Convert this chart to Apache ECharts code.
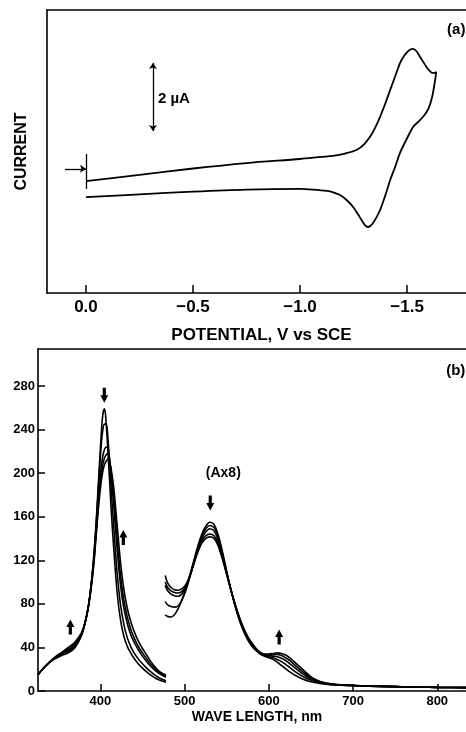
<!DOCTYPE html>
<html>
<head>
<meta charset="utf-8">
<script src="https://cdn.jsdelivr.net/npm/echarts@6.0.0/dist/echarts.min.js"></script>
<style>
  html, body { margin: 0; padding: 0; background: #fff; }
  #chart { width: 466px; height: 732px; }
</style>
</head>
<body>
<div id="chart"></div>
<script>
// ---- panel (a): cyclic voltammogram ----
var cvPotential = [
  0.0, -0.25, -0.5, -0.75, -1.0, -1.1, -1.154, -1.21, -1.266, -1.3, -1.327, -1.35, -1.374, -1.40,
  -1.421, -1.445, -1.467, -1.485, -1.5, -1.515, -1.528, -1.545, -1.561, -1.577, -1.593, -1.607,
  -1.617, -1.628, -1.636,
  -1.631, -1.617, -1.6, -1.575, -1.55, -1.528, -1.5, -1.467, -1.445, -1.421, -1.4, -1.374, -1.355,
  -1.341, -1.328, -1.318, -1.305, -1.29, -1.27, -1.248, -1.22, -1.187, -1.155, -1.126, -1.06, -1.0,
  -0.75, -0.5, -0.25, 0.0
];
var cvCurrent = [
  3.29, 3.47, 3.66, 3.82, 3.94, 4.0, 4.03, 4.1, 4.21, 4.38, 4.59, 4.85, 5.18, 5.6,
  5.97, 6.38, 6.76, 6.96, 7.08, 7.16, 7.18, 7.1, 6.94, 6.78, 6.62, 6.52,
  6.47, 6.47, 6.5,
  6.26, 5.76, 5.42, 5.18, 5.02, 4.88, 4.55, 4.12, 3.72, 3.32, 2.9, 2.44, 2.2,
  2.06, 1.97, 1.94, 1.98, 2.12, 2.32, 2.53, 2.72, 2.88, 2.96, 3.0, 3.04, 3.06,
  3.04, 2.98, 2.9, 2.82
];
var potentialTicks = [0, -0.5, -1.0, -1.5];
// start marker, scale bar (2 uA)
var startArrow = [[0.098, 3.65], [0.0, 3.65]];
var startTick = [[0.0, 4.09], [0.0, 3.06]];
var scaleBar = [[-0.313, 6.76], [-0.313, 4.76]];

// ---- panel (b): spectra ----
var soretWl = [326, 335, 345, 355, 362, 370, 378, 384, 388, 392, 395, 398, 401, 403, 405, 407, 409,
  411, 413, 416, 420, 424, 428, 432, 436, 440, 445, 450, 455, 460, 465, 470, 478];
var soret0 = [15, 23, 29, 33, 35, 40, 52, 70, 90, 122, 155, 195, 235, 254, 259, 245, 220,
  193, 165, 130, 90, 65, 50, 41, 35, 30, 25, 21, 17.5, 14.5, 12, 10, 8];
var soret1 = [15, 23, 29.5, 34, 36.5, 41, 52, 70, 90, 120, 152, 190, 225, 240, 245, 245, 232,
  210, 184, 150, 108, 79, 61, 49, 41, 35, 29.5, 25, 21, 17.5, 14.5, 12, 9.5];
var soret2 = [15, 23, 30, 34.5, 37.5, 42.5, 52.5, 70, 90, 118, 148, 180, 205, 216, 222, 224, 223,
  213, 196, 170, 130, 97, 76, 62, 52, 45, 38, 32, 27, 22.5, 19, 16, 12.5];
var soret3 = [15, 23, 30, 35, 38.5, 43.5, 53, 70, 89, 116, 145, 175, 198, 208, 214, 217, 218,
  212, 200, 178, 140, 106, 83, 68, 57, 49, 41, 35, 29.5, 24.5, 20.5, 17, 13.5];
var soret4 = [15, 23, 30.5, 36, 40, 45, 54, 70, 88, 114, 142, 170, 192, 202, 208, 211, 213,
  210, 203, 186, 152, 118, 93, 76, 64, 55, 46, 39, 33, 27, 22, 18, 14.5];

var qWl = [477, 480, 484, 488, 492, 496, 500, 505, 510, 515, 520, 525, 530, 535, 540, 545, 550, 555,
  560, 565, 570, 575, 580, 585, 590, 595, 600, 605, 610, 615, 620, 625, 630, 640, 650, 660, 670,
  680, 700, 720, 750, 780, 800, 846];
var q0 = [70, 68.5, 68, 70, 75, 82, 91, 103, 117, 131, 143, 151, 155, 153, 143, 128, 110, 93,
  78, 65, 55, 47, 41, 37, 34, 32, 30.5, 29, 26.5, 23.5, 20.5, 17.5, 15, 11, 8.5, 7, 6,
  5.5, 5, 4.5, 4, 3.5, 3.3, 3];
var q1 = [82, 79, 77.5, 77, 78, 82, 89, 101, 115, 129, 141, 149, 152, 150, 141, 126, 109, 93,
  78.5, 66, 56, 48, 42, 37.5, 34, 32.5, 31.5, 30.5, 29, 27, 24.5, 21.5, 18.5, 13.5, 10, 7.5, 6.3,
  5.6, 5, 4.5, 4, 3.5, 3.3, 3];
var q2 = [97, 92, 89, 87.5, 87, 88.5, 93, 102, 115, 128, 139, 146, 149, 147, 138, 124, 108, 93,
  79, 67, 57, 49, 43, 38, 34.5, 33, 32.5, 32, 31.5, 30, 28, 25, 22, 16, 11.5, 8.3, 6.6,
  5.8, 5, 4.5, 4, 3.5, 3.3, 3];
var q3 = [100, 95, 92, 90.5, 90, 91, 94.5, 103, 114.5, 127, 137, 142.5, 144, 142.5, 135, 122, 107.5, 93,
  79.5, 67.5, 57.5, 49.5, 43.5, 38.5, 35, 33.5, 33, 33.5, 33.5, 32.5, 30.5, 28, 24.5, 18, 12.3, 8.7, 6.8,
  5.9, 5, 4.5, 4, 3.5, 3.3, 3];
var q4 = [106, 99, 95, 93, 92.5, 93.5, 96, 103, 114, 126, 135, 140, 141.5, 140, 133, 121, 107, 93,
  80, 68, 58, 50, 44, 39, 35.5, 34, 34, 34.5, 35, 34.5, 33, 30.5, 27, 20, 13, 9, 7,
  6, 5, 4.5, 4, 3.5, 3.3, 3];
var wlTicks = [400, 500, 600, 700, 800];
var absTicks = [0, 40, 80, 120, 160, 200, 240, 280];
var arrowsDown = [[404.7, 271.6], [530.5, 172.5]];
var arrowsUp = [[427.3, 141], [364.4, 58.7], [612.3, 49.5]];

var FONT = "'Liberation Sans', Arial, sans-serif";
var INK = '#000';
var frameLine = { show: true, onZero: false, lineStyle: { color: INK, width: 1.6 } };

function pairs(xs, ys) {
  return xs.map(function (x, i) { return [x, ys[i]]; });
}

function spectrum(wl, vals) {
  return {
    type: 'line',
    xAxisIndex: 1,
    yAxisIndex: 1,
    data: pairs(wl, vals),
    smooth: 0.35,
    showSymbol: false,
    symbol: 'none',
    lineStyle: { color: INK, width: 1.6 },
    silent: true
  };
}

function seg(p, q, s0, s1) {
  return [
    { coord: p, symbol: s0 },
    { coord: q, symbol: s1 }
  ];
}

// plain top edge of a panel frame
function topEdge(gridIndex, min, max, inverse) {
  return {
    gridIndex: gridIndex,
    type: 'value',
    position: 'top',
    inverse: !!inverse,
    min: min,
    max: max,
    splitLine: { show: false },
    axisLine: frameLine,
    axisTick: { show: false },
    axisLabel: { show: false }
  };
}

var blockArrow = 'path://M3,0 L7,0 L7,7 L10,7 L5,14 L0,7 L3,7 Z';

var series = [
  {
    type: 'line',
    xAxisIndex: 0,
    yAxisIndex: 0,
    data: pairs(cvPotential, cvCurrent),
    smooth: 0.3,
    showSymbol: false,
    symbol: 'none',
    lineStyle: { color: INK, width: 1.8 },
    markLine: {
      silent: true,
      animation: false,
      symbolSize: 6,
      label: { show: false },
      lineStyle: { color: INK, width: 1.3, type: 'solid' },
      data: [
        seg(startArrow[0], startArrow[1], 'none', 'arrow'),
        seg(startTick[0], startTick[1], 'none', 'none'),
        seg(scaleBar[0], scaleBar[1], 'arrow', 'arrow')
      ]
    }
  },
  {
    type: 'scatter',
    xAxisIndex: 0,
    yAxisIndex: 0,
    symbolSize: 0,
    silent: true,
    itemStyle: { opacity: 1 },
    data: [
      { value: [-0.336, 5.7], label: { formatter: '2 µA', position: 'right', distance: 0 } },
      { value: [-1.687, 7.74], label: { formatter: '(a)', position: 'right', distance: 0 } }
    ],
    label: { show: true, color: INK, fontFamily: FONT, fontWeight: 'bold', fontSize: 15 }
  }
];

[soret0, soret1, soret2, soret3, soret4].forEach(function (v) { series.push(spectrum(soretWl, v)); });
[q0, q1, q2, q3, q4].forEach(function (v) { series.push(spectrum(qWl, v)); });

series.push({
  type: 'scatter',
  xAxisIndex: 1,
  yAxisIndex: 1,
  symbol: blockArrow,
  symbolSize: [8, 15],
  itemStyle: { color: INK, opacity: 1 },
  silent: true,
  data: arrowsDown
});
series.push({
  type: 'scatter',
  xAxisIndex: 1,
  yAxisIndex: 1,
  symbol: blockArrow,
  symbolSize: [8, 15],
  symbolRotate: 180,
  itemStyle: { color: INK, opacity: 1 },
  silent: true,
  data: arrowsUp
});
series.push({
  type: 'scatter',
  xAxisIndex: 1,
  yAxisIndex: 1,
  symbolSize: 0,
  silent: true,
  itemStyle: { opacity: 1 },
  data: [
    { value: [546, 200], label: { formatter: '(Ax8)', fontSize: 14 } },
    { value: [822, 293.5], label: { formatter: '(b)', fontSize: 15 } }
  ],
  label: { show: true, position: 'inside', color: INK, fontFamily: FONT, fontWeight: 'bold' }
});

var option = {
  backgroundColor: '#fff',
  animation: false,
  grid: [
    { left: 47, top: 10, width: 429, height: 283, outerBoundsMode: 'none' },
    { left: 38, top: 349, width: 438, height: 342, outerBoundsMode: 'none' }
  ],
  xAxis: [
    {
      gridIndex: 0,
      type: 'value',
      inverse: true,
      min: -1.822,
      max: 0.182,
      splitLine: { show: false },
      axisLine: frameLine,
      axisTick: { inside: true, length: 8, customValues: potentialTicks, lineStyle: { color: INK, width: 1.5 } },
      axisLabel: {
        customValues: potentialTicks,
        margin: 6,
        color: INK,
        fontFamily: FONT,
        fontWeight: 'bold',
        fontSize: 17,
        formatter: function (v) { return v === 0 ? '0.0' : '\u2212' + Math.abs(v).toFixed(1); }
      },
      name: 'POTENTIAL, V vs SCE',
      nameLocation: 'middle',
      nameGap: 34,
      nameTextStyle: { color: INK, fontFamily: FONT, fontWeight: 'bold', fontSize: 17 }
    },
    {
      gridIndex: 1,
      type: 'value',
      min: 326,
      max: 846,
      splitLine: { show: false },
      axisLine: frameLine,
      axisTick: { inside: true, length: 7, customValues: wlTicks, lineStyle: { color: INK, width: 1.5 } },
      axisLabel: {
        customValues: wlTicks,
        margin: 4,
        color: INK,
        fontFamily: FONT,
        fontWeight: 'bold',
        fontSize: 13
      },
      name: 'WAVE LENGTH, nm',
      nameLocation: 'middle',
      nameGap: 19,
      nameTextStyle: { color: INK, fontFamily: FONT, fontWeight: 'bold', fontSize: 14 }
    },
    topEdge(0, -1.822, 0.182, true),
    topEdge(1, 326, 846, false)
  ],
  yAxis: [
    {
      gridIndex: 0,
      type: 'value',
      min: 0,
      max: 8.32,
      splitLine: { show: false },
      axisLine: frameLine,
      axisTick: { show: false },
      axisLabel: { show: false },
      name: 'CURRENT',
      nameLocation: 'middle',
      nameRotate: 90,
      nameGap: 17,
      nameTextStyle: { color: INK, fontFamily: FONT, fontWeight: 'bold', fontSize: 16 }
    },
    {
      gridIndex: 1,
      type: 'value',
      min: 0,
      max: 314,
      splitLine: { show: false },
      axisLine: frameLine,
      axisTick: { inside: true, length: 7, customValues: absTicks, lineStyle: { color: INK, width: 1.5 } },
      axisLabel: {
        customValues: absTicks,
        margin: 3,
        color: INK,
        fontFamily: FONT,
        fontWeight: 'bold',
        fontSize: 13,
        padding: [0, 0, 4, 0]
      }
    }
  ],
  series: series
};

var myChart = echarts.init(document.getElementById('chart'), null, { renderer: 'canvas' });
myChart.setOption(option);
</script>
</body>
</html>
